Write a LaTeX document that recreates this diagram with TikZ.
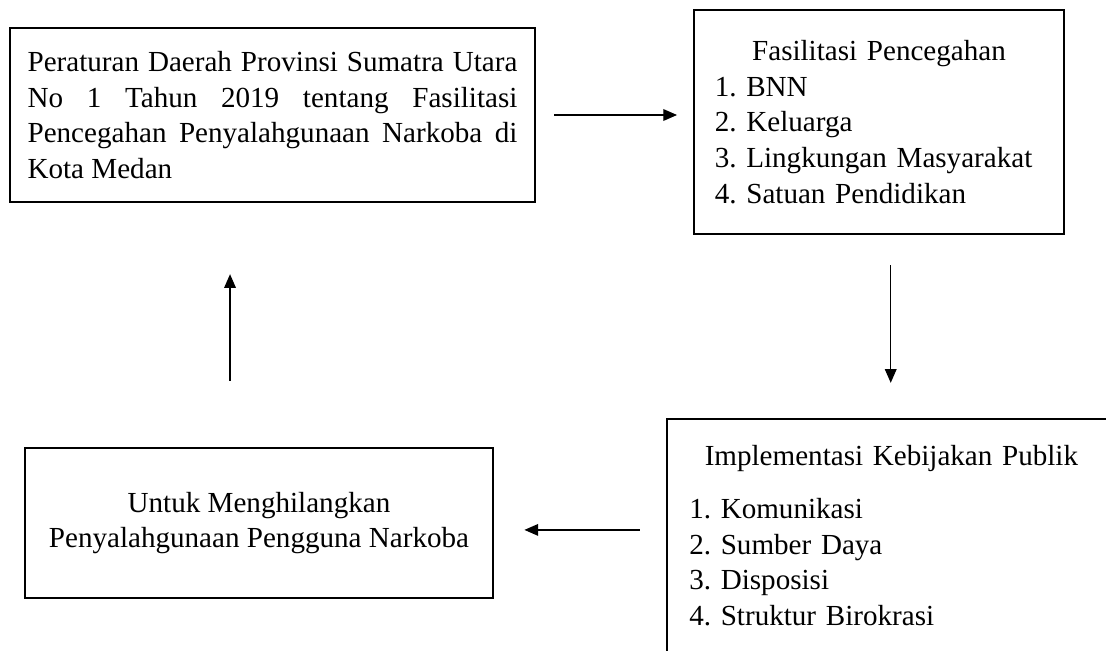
\documentclass[tikz,border=0pt,12pt]{standalone}
\usepackage{fontspec}
\setmainfont{Liberation Serif}
\usetikzlibrary{arrows.meta}
\frenchspacing

\begin{document}
\begin{tikzpicture}[x=0.0145cm,y=-0.0145cm,
  box/.style={draw,line width=1pt,inner xsep=0.3cm,font=\fontsize{12}{14.7}\selectfont\frenchspacing},
  arr/.style={-{Triangle[length=0.2cm,width=0.17cm]},line width=0.5pt}]
\useasboundingbox (0,0) rectangle (1106,650);
\clip (0,0) rectangle (1106,650);

\node[box,text width=7.1cm,inner xsep=0.255cm,minimum height=2.52cm,align=justify] (peraturan) at (272.5,115) {Peraturan Daerah Provinsi Sumatra Utara\linebreak No 1 Tahun 2019 tentang Fasilitasi\linebreak Pencegahan Penyalahgunaan Narkoba di\linebreak Kota Medan};
\node[box,text width=4.76cm,minimum height=3.25cm,align=left] (fasilitasi) at (879,122) {\makebox[\linewidth]{Fasilitasi Pencegahan}\\1. BNN\\2. Keluarga\\3. Lingkungan Masyarakat\\4. Satuan Pendidikan};
\node[box,minimum width=6.79cm,minimum height=2.175cm,align=center] (menghilangkan) at (259,523) {Untuk Menghilangkan\\Penyalahgunaan Pengguna Narkoba};
\node[box,anchor=north west,text width=5.86cm,inner xsep=0.32cm,inner ysep=0.38cm,align=left] (implementasi) at (666,418) {\makebox[\linewidth]{Implementasi Kebijakan Publik}\\[0.25cm]1. Komunikasi\\2. Sumber Daya\\3. Disposisi\\4. Struktur Birokrasi\\[1.5cm]\mbox{}};

\draw[arr,shorten <=0.26cm,shorten >=0.23cm] (peraturan.east) -- (peraturan.east -| fasilitasi.west);
\draw[arr,shorten <=0.435cm,shorten >=0.51cm] ([xshift=0.17cm]fasilitasi.south) -- ([xshift=0.17cm]fasilitasi.south |- implementasi.north);
\draw[arr,shorten <=0.38cm,shorten >=0.435cm] ([yshift=-0.1cm]menghilangkan.east -| implementasi.west) -- ([yshift=-0.1cm]menghilangkan.east);
\draw[arr,shorten <=0.96cm,shorten >=1.03cm] ([xshift=-0.42cm]menghilangkan.north) -- ([xshift=-0.42cm]menghilangkan.north |- peraturan.south);
\end{tikzpicture}
\end{document}
